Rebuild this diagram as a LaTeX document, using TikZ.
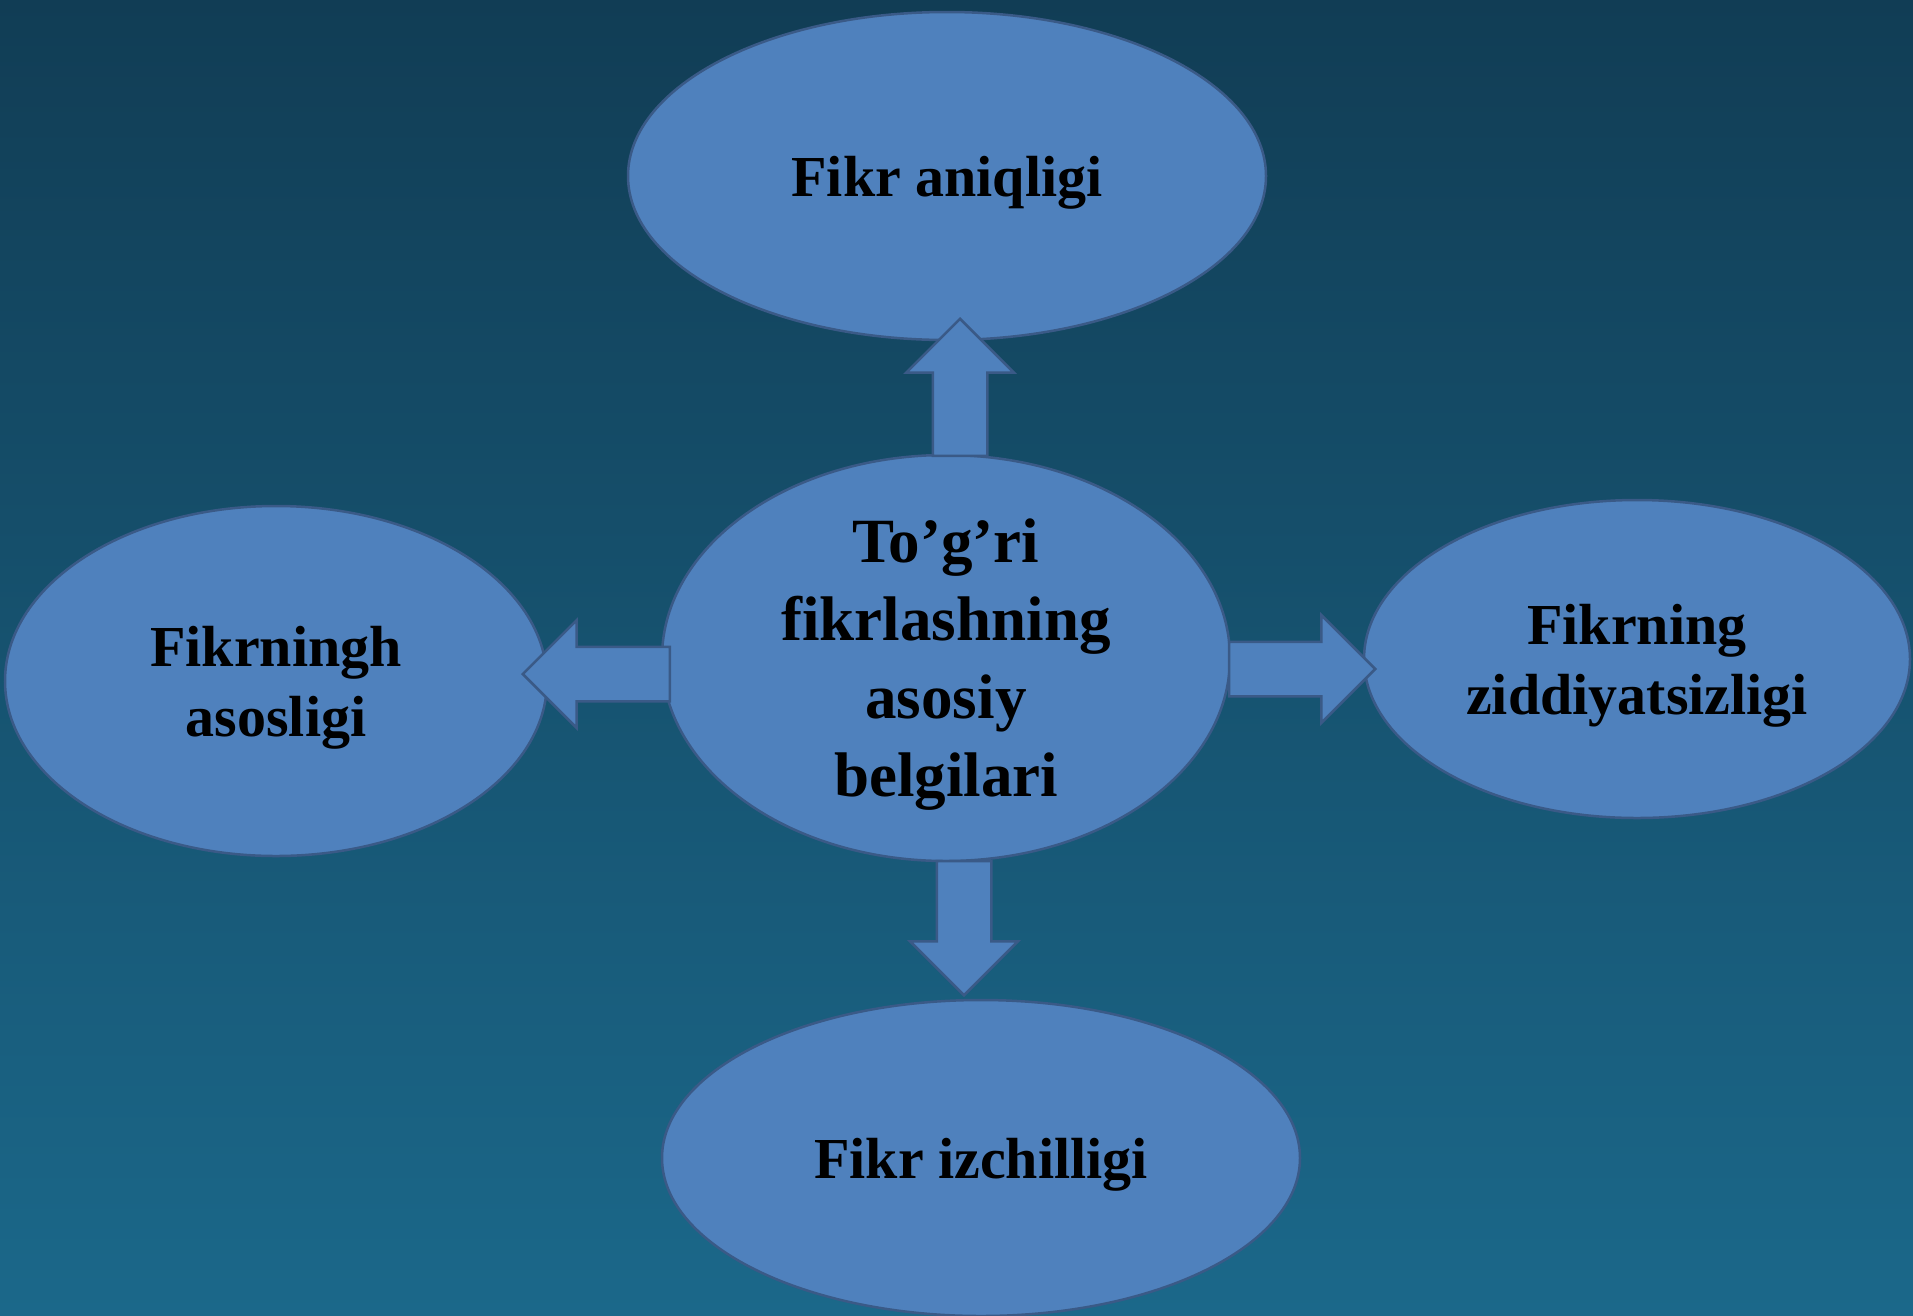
\documentclass[tikz,border=0pt]{standalone}
\usepackage{fontspec}
\setmainfont{Liberation Serif}
\usetikzlibrary{shapes.geometric,shapes.arrows}
\definecolor{bgtop}{RGB}{17,61,85}
\definecolor{bgbot}{RGB}{27,104,138}
\definecolor{nodeblue}{RGB}{79,129,189}
\definecolor{edgeblue}{RGB}{58,90,135}
\tikzset{
	oval/.style={ellipse,draw=edgeblue,fill=nodeblue,line width=2.5pt,inner sep=0pt},
	ovaltext/.style={align=center,yshift=-7pt,font=\fontsize{58}{70}\selectfont\bfseries},
	blockarrow/.style={single arrow,draw=edgeblue,fill=nodeblue,line width=2.5pt,inner sep=0pt,text height=52pt,text depth=0pt,single arrow head extend=26.5pt,minimum width=105pt,anchor=tip}
}
\begin{document}
\begin{tikzpicture}[x=1pt,y=-1pt]
	\shade[top color=bgtop,bottom color=bgbot] (0,0) rectangle (1913,1315);
	\useasboundingbox (0,0) rectangle (1913,1315);
	\node[oval,minimum width=638pt,minimum height=328pt,label={[ovaltext]center:Fikr aniqligi}] (aniq) at (947,176) {};
	\node[oval,minimum width=568pt,minimum height=406pt,label={[ovaltext,font=\fontsize{63}{78}\selectfont\bfseries]center:{To’g’ri\\fikrlashning\\asosiy\\belgilari}}] (markaz) at (946,658) {};
	\node[oval,minimum width=542pt,minimum height=350pt,label={[ovaltext]center:{Fikrningh\\asosligi}}] (asos) at (276,681) {};
	\node[oval,minimum width=546pt,minimum height=318pt,label={[ovaltext]center:{Fikrning\\ziddiyatsizligi}}] (zid) at (1637,659) {};
	\node[oval,minimum width=638pt,minimum height=316pt,label={[ovaltext]center:Fikr izchilligi}] (izchil) at (981,1158) {};
	% strelkalar
	\node[blockarrow,rotate=90,minimum height=137pt] (yuqori) at (960,317) {};
	\node[blockarrow,rotate=-90,minimum height=134pt] (past) at (964,997) {};
	\node[blockarrow,rotate=180,minimum height=147pt] (chap) at (521,674) {};
	\node[blockarrow,minimum height=146pt] (ong) at (1377,669) {};
\end{tikzpicture}
\end{document}
